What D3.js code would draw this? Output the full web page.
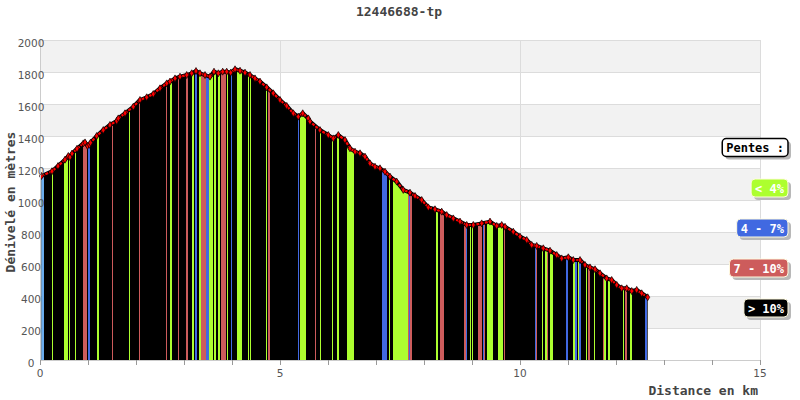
<!DOCTYPE html>
<html><head><meta charset="utf-8">
<script src="https://cdn.jsdelivr.net/npm/d3@7/dist/d3.min.js"></script>
<style>body{margin:0;background:#fff}svg{display:block}</style>
</head><body>
<svg id="c" width="800" height="400"></svg>
<script>
const title = "12446688-tp";
const xTitle = "Distance en km";
const yTitle = "Dénivelé en mètres";
const legendTitle = "Pentes :";
const categories = ["< 4%", "4 - 7%", "7 - 10%", "> 10%"];
const catKeys = ["g", "b", "r", "k"];
const yTicks = [0, 200, 400, 600, 800, 1000, 1200, 1400, 1600, 1800, 2000];
const xLabelTicks = [0, 5, 10, 15];
const xMinorTicks = [0,1,2,3,4,5,6,7,8,9,10,11,12,13,14,15];

const distKm = [0.031,0.25,0.375,0.521,0.59,0.625,0.667,0.771,0.902,0.938,0.99,1.031,1.052,1.181,1.319,1.458,1.598,1.631,1.771,1.944,2.083,2.223,2.36,2.5,2.64,2.708,2.813,2.917,3.056,3.16,3.25,3.333,3.438,3.542,3.625,3.715,3.806,3.89,3.973,4.063,4.167,4.271,4.375,4.479,4.583,4.723,4.86,5.0,5.14,5.277,5.381,5.473,5.59,5.625,5.833,6.006,6.11,6.215,6.354,6.458,6.563,6.667,6.771,6.875,6.979,7.083,7.188,7.292,7.431,7.569,7.708,7.813,7.952,8.09,8.229,8.369,8.473,8.61,8.75,8.89,9.027,9.202,9.375,9.515,9.619,9.688,9.86,10.0,10.14,10.244,10.348,10.485,10.625,10.765,10.869,11.006,11.11,11.25,11.354,11.458,11.563,11.667,11.806,11.91,12.015,12.119,12.223,12.327,12.431,12.535,12.66];
const elevM = [1150,1180,1212,1252,1275,1268,1290,1320,1354,1360,1338,1345,1358,1400,1437,1469,1494,1510,1542,1583,1625,1642,1662,1698,1729,1740,1760,1771,1781,1792,1806,1792,1781,1771,1802,1792,1802,1802,1796,1817,1808,1796,1781,1760,1740,1704,1667,1625,1588,1542,1521,1542,1510,1490,1437,1406,1385,1406,1375,1323,1302,1292,1271,1229,1208,1198,1177,1146,1115,1063,1046,1025,1000,954,942,927,906,885,865,844,844,854,865,838,844,833,802,771,750,719,713,698,683,656,635,642,625,625,594,579,567,542,510,500,469,448,448,431,438,417,392];

const bandStart = [0.031,0.25,0.5,0.604,0.719,0.896,1.0,1.194,1.51,1.844,2.063,2.635,2.715,2.885,3.052,3.173,3.235,3.313,3.36,3.458,3.521,3.635,3.715,3.781,3.89,3.969,4.094,4.333,4.379,4.698,4.75,5.371,5.417,5.729,5.833,6.083,6.188,6.402,7.131,7.265,7.348,7.667,7.688,7.708,8.25,8.327,8.827,8.885,8.948,9.0,9.119,9.219,9.25,9.306,9.552,9.66,10.306,10.333,10.458,10.527,10.556,10.625,10.958,11.104,11.152,11.202,11.229,11.365,11.427,11.542,11.729,11.76,11.827,12.146,12.188,12.302,12.604];
const bandEnd = [0.083,0.271,0.573,0.625,0.75,0.979,1.035,1.223,1.531,1.865,2.083,2.656,2.744,2.906,3.083,3.202,3.271,3.348,3.458,3.521,3.604,3.677,3.76,3.875,3.917,4.01,4.208,4.354,4.4,4.719,4.802,5.396,5.535,5.75,5.854,6.104,6.229,6.542,7.235,7.292,7.66,7.688,7.708,7.744,8.285,8.417,8.869,8.906,8.969,9.027,9.202,9.24,9.271,9.431,9.646,9.694,10.333,10.354,10.479,10.556,10.577,10.681,10.994,11.14,11.194,11.223,11.271,11.385,11.448,11.563,11.756,11.792,11.875,12.167,12.229,12.323,12.652];
const bandCat = ["lb","g","g","g","g","r","b","g","r","g","r","r","g","r","r","g","b","g","r","b","g","g","g","r","g","b","g","g","g","g","r","b","g","r","g","g","g","g","b","g","g","r","b","r","g","r","r","b","g","g","r","b","r","g","g","r","b","r","g","g","r","g","b","g","b","g","b","g","r","g","r","g","g","g","r","g","b"];

const colors = {g: "#adff2f", b: "#4169e1", r: "#cd5c5c", k: "#000000", lb: "#6aaced"};

const svg = d3.select("#c");
const W = 800, H = 400;
const m = {l: 40, r: 40, t: 40, b: 40};
const x = d3.scaleLinear().domain([0, 15]).range([m.l, W - m.r]);
const y = d3.scaleLinear().domain([0, 2000]).range([H - m.b, m.t]);

// stripes
const stripes = yTicks.slice(0, -1).map((v, i) => [v, yTicks[i + 1]]);
svg.append("g").selectAll("rect").data(stripes).join("rect")
  .attr("x", x(0)).attr("width", x(15) - x(0))
  .attr("y", d => y(d[1])).attr("height", d => y(d[0]) - y(d[1]))
  .attr("fill", (d, i) => (i % 2 === 1) ? "#f2f2f2" : "#ffffff");

// grid
const grid = svg.append("g").attr("stroke", "#dcdcdc").attr("stroke-width", 1).attr("shape-rendering", "crispEdges");
grid.selectAll("line.h").data(yTicks).join("line").attr("class", "h")
  .attr("x1", x(0)).attr("x2", x(15)).attr("y1", d => y(d) + 0.5).attr("y2", d => y(d) + 0.5);
grid.selectAll("line.v").data(xLabelTicks).join("line").attr("class", "v")
  .attr("x1", d => x(d) + 0.5).attr("x2", d => x(d) + 0.5).attr("y1", y(2000)).attr("y2", y(0));

const pts = distKm.map((d, i) => ({km: d, e: elevM[i]}));

// area clip
const area = d3.area().x(d => x(d.km)).y0(y(0)).y1(d => y(d.e));
svg.append("clipPath").attr("id", "ac").append("path").attr("d", area(pts));
svg.append("path").attr("d", area(pts)).attr("fill", colors.k);

const bands = bandStart.map((s, i) => ({s, e: bandEnd[i], c: bandCat[i]}));
svg.append("g").attr("clip-path", "url(#ac)").selectAll("rect").data(bands).join("rect")
  .attr("x", d => x(d.s)).attr("width", d => Math.max(1, x(d.e) - x(d.s)))
  .attr("y", y(2000)).attr("height", y(0) - y(2000))
  .attr("fill", d => colors[d.c]).attr("shape-rendering", "crispEdges");

// top line
const line = d3.line().x(d => x(d.km)).y(d => y(d.e));
svg.append("path").attr("d", line(pts)).attr("fill", "none").attr("stroke", "#000").attr("stroke-width", 4).attr("stroke-linejoin", "round");
svg.append("path").attr("d", line(pts)).attr("fill", "none").attr("stroke", "#ff0000").attr("stroke-width", 2.2).attr("stroke-dasharray", "3 1.3");
svg.append("g").selectAll("path").data(pts).join("path")
  .attr("d", d3.symbol(d3.symbolDiamond, 14)())
  .attr("transform", d => `translate(${x(d.km)},${y(d.e)})`)
  .attr("fill", "#ff0000").attr("stroke", "#000").attr("stroke-width", 0.7);

// axes lines
svg.append("line").attr("x1", x(0)).attr("x2", x(15)).attr("y1", y(0) + 0.5).attr("y2", y(0) + 0.5)
  .attr("stroke", "#cccccc").attr("shape-rendering", "crispEdges");
svg.append("line").attr("x1", x(0) + 0.5).attr("x2", x(0) + 0.5).attr("y1", y(2000)).attr("y2", y(0))
  .attr("stroke", "#cccccc").attr("shape-rendering", "crispEdges");
svg.append("line").attr("x1", x(15) + 0.5).attr("x2", x(15) + 0.5).attr("y1", y(2000)).attr("y2", y(0))
  .attr("stroke", "#dcdcdc").attr("shape-rendering", "crispEdges");

// x ticks
svg.append("g").selectAll("line").data(xMinorTicks).join("line")
  .attr("x1", d => x(d) + 0.5).attr("x2", d => x(d) + 0.5).attr("y1", y(0)).attr("y2", y(0) + 5)
  .attr("stroke", "#999").attr("shape-rendering", "crispEdges");
svg.append("g").selectAll("text").data(xLabelTicks).join("text")
  .attr("x", d => x(d)).attr("y", y(0) + 17).attr("text-anchor", "middle")
  .attr("font-family", "DejaVu Sans, sans-serif").attr("font-size", 10.5).attr("fill", "#555")
  .text(d => d);
svg.append("g").selectAll("text").data(yTicks).join("text")
  .attr("x", 31).attr("y", d => y(d) + 7).attr("text-anchor", "middle")
  .attr("font-family", "DejaVu Sans, sans-serif").attr("font-size", 10.5).attr("fill", "#555")
  .text(d => d);

// titles
const mono = "DejaVu Sans Mono, monospace";
svg.append("text").attr("x", 399).attr("y", 16).attr("text-anchor", "middle")
  .attr("font-family", mono).attr("font-weight", "bold").attr("font-size", 13).attr("fill", "#444").text(title);
svg.append("text").attr("x", 758).attr("y", 395).attr("text-anchor", "end")
  .attr("font-family", mono).attr("font-weight", "bold").attr("font-size", 13).attr("fill", "#444").text(xTitle);
svg.append("text").attr("transform", "translate(15,202) rotate(-90)").attr("text-anchor", "middle")
  .attr("font-family", mono).attr("font-weight", "bold").attr("font-size", 13).attr("fill", "#444").text(yTitle);

// legend
const legItems = [{t: legendTitle, fill: "#fff", stroke: "#000", sw: 1.5, tc: "#000", yc: 147.5}]
  .concat(categories.map((c, i) => ({t: c, fill: colors[catKeys[i]], stroke: "#fffbe0", sw: 1, tc: "#fff", yc: 188 + i * 40})));
const lg = svg.append("g");
legItems.forEach(it => {
  const g = lg.append("g");
  const tw = it.t.length * 7.22;
  const w = tw + 8, h = 18, right = 788;
  g.append("rect").attr("x", right - w + 3).attr("y", it.yc - h / 2 + 3).attr("width", w).attr("height", h)
    .attr("rx", 4).attr("fill", "#b8b8b8");
  g.append("rect").attr("x", right - w).attr("y", it.yc - h / 2).attr("width", w).attr("height", h)
    .attr("rx", 4).attr("fill", it.fill).attr("stroke", it.stroke).attr("stroke-width", it.sw);
  g.append("text").attr("x", right - w / 2).attr("y", it.yc + 4.5).attr("text-anchor", "middle")
    .attr("font-family", mono).attr("font-weight", "bold").attr("font-size", 12).attr("fill", it.tc).text(it.t);
});
</script>
</body></html>
